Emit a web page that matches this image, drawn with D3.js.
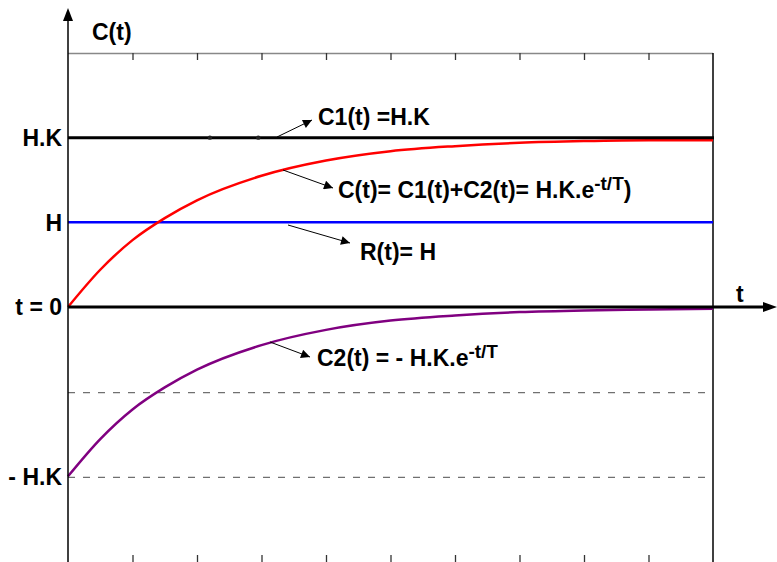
<!DOCTYPE html>
<html>
<head>
<meta charset="utf-8">
<script src="https://cdn.jsdelivr.net/npm/d3@7"></script>
<style>
  body { margin: 0; background: #fff; }
  text { font-family: Arial, "Liberation Sans", sans-serif; font-weight: bold; fill: #000; }
</style>
</head>
<body>
<svg id="container" width="777" height="562"></svg>
<script>
// values (time in tick units, response in units of H)
const tVals  = [0, 0.5, 1, 1.5, 2, 3, 4, 5, 6, 7, 8, 9, 10];
const cVals  = [0, 0.44, 0.79, 1.05, 1.26, 1.55, 1.73, 1.84, 1.90, 1.94, 1.96, 1.97, 1.97];
const c2Vals = [-2, -1.56, -1.21, -0.95, -0.74, -0.45, -0.27, -0.16, -0.10, -0.06, -0.04, -0.03, -0.02];
const c1Level = 2;
const rLevel = 1;
const dashedLevels = [-1, -2];
const levelLabels = ["H.K", "H", "t = 0", "- H.K"];
const levelValues = [2, 1, 0, -2];
const tickValues = [1, 2, 3, 4, 5, 6, 7, 8, 9];

const svg = d3.select('#container');
const fs = 23;

const x = d3.scaleLinear().domain([0, 10]).range([68, 713]);
const y = d3.scaleLinear().domain([-3, 3]).range([561, 53]);

// frame: top border (gray) and right border
svg.append('line')
    .attr('x1', x(0)).attr('x2', x(10))
    .attr('y1', y(3) + 0.5).attr('y2', y(3) + 0.5)
    .attr('stroke', '#888').attr('stroke-width', 1.6);
svg.append('line')
    .attr('x1', x(10)).attr('x2', x(10))
    .attr('y1', y(3)).attr('y2', 562)
    .attr('stroke', '#000').attr('stroke-width', 1.5);

// ticks top (pointing down) and bottom (pointing up)
const topAxis = svg.append('g')
    .attr('transform', `translate(0,${y(3)})`)
    .call(d3.axisBottom(x).tickValues(tickValues).tickSize(7).tickFormat(''));
const botAxis = svg.append('g')
    .attr('transform', `translate(0,562)`)
    .call(d3.axisTop(x).tickValues(tickValues).tickSize(7).tickFormat(''));
[topAxis, botAxis].forEach(a => {
  a.select('.domain').remove();
  a.selectAll('.tick line').attr('stroke', '#333').attr('stroke-width', 1.3);
});

// dashed gray levels
svg.selectAll('line.dash')
  .data(dashedLevels)
  .enter().append('line')
    .attr('class', 'dash')
    .attr('x1', x(0)).attr('x2', x(10))
    .attr('y1', d => y(d) + 1).attr('y2', d => y(d) + 1)
    .attr('stroke', '#707070').attr('stroke-width', 1.4)
    .attr('stroke-dasharray', '7,8');

// R(t) = H  blue
svg.append('line')
    .attr('x1', x(0)).attr('x2', x(10))
    .attr('y1', y(rLevel)).attr('y2', y(rLevel))
    .attr('stroke', '#0000ff').attr('stroke-width', 2.5);

const line = d3.line()
    .x((d, i) => x(tVals[i]))
    .y(d => y(d))
    .curve(d3.curveMonotoneX);

// C(t) red
svg.append('path')
    .datum(cVals)
    .attr('d', line)
    .attr('fill', 'none').attr('stroke', '#ff0000').attr('stroke-width', 2.5);

// C2(t) purple
svg.append('path')
    .datum(c2Vals)
    .attr('d', line)
    .attr('fill', 'none').attr('stroke', '#800080').attr('stroke-width', 2.5);

// C1(t) = H.K black
svg.append('line')
    .attr('x1', x(0)).attr('x2', x(10) + 1)
    .attr('y1', y(c1Level)).attr('y2', y(c1Level))
    .attr('stroke', '#000').attr('stroke-width', 3);
svg.selectAll('circle.mk')
  .data([2.2, 2.95])
  .enter().append('circle')
    .attr('class', 'mk')
    .attr('cx', d => x(d)).attr('cy', y(c1Level))
    .attr('r', 2.2).attr('fill', '#222');

// t axis (black, with arrow)
svg.append('line')
    .attr('x1', x(0)).attr('x2', 766)
    .attr('y1', y(0)).attr('y2', y(0))
    .attr('stroke', '#000').attr('stroke-width', 3);
svg.append('path')
    .attr('d', `M777,${y(0)} L763,${y(0) - 5} L763,${y(0) + 5} Z`)
    .attr('fill', '#000');

// C(t) axis (vertical, with arrow)
svg.append('line')
    .attr('x1', x(0)).attr('x2', x(0))
    .attr('y1', 562).attr('y2', 18)
    .attr('stroke', '#000').attr('stroke-width', 1.5);
svg.append('path')
    .attr('d', `M${x(0)},8 L${x(0) - 5},21 L${x(0) + 5},21 Z`)
    .attr('fill', '#000');

svg.append('text').attr('x', 92).attr('y', 40)
    .attr('font-size', fs).text('C(t)');
svg.append('text').attr('x', 736).attr('y', 302)
    .attr('font-size', fs).text('t');

// level labels on the left
svg.selectAll('text.lvl')
  .data(levelLabels)
  .enter().append('text')
    .attr('class', 'lvl')
    .attr('x', 62)
    .attr('y', (d, i) => y(levelValues[i]))
    .attr('dy', '0.36em')
    .attr('text-anchor', 'end')
    .attr('font-size', fs)
    .text(d => d);

// annotation arrows
svg.append('defs').append('marker')
    .attr('id', 'ah')
    .attr('viewBox', '0 0 10 10')
    .attr('refX', 10).attr('refY', 5)
    .attr('markerWidth', 11).attr('markerHeight', 9)
    .attr('markerUnits', 'userSpaceOnUse')
    .attr('orient', 'auto')
  .append('path').attr('d', 'M0,0 L10,5 L0,10 Z').attr('fill', '#000');

const arrows = [
  [277, 137, 312, 120],
  [283, 170, 333, 188],
  [288, 225, 350, 243],
  [270, 342, 310, 357]
];
svg.selectAll('line.ann')
  .data(arrows)
  .enter().append('line')
    .attr('class', 'ann')
    .attr('x1', d => d[0]).attr('y1', d => d[1])
    .attr('x2', d => d[2]).attr('y2', d => d[3])
    .attr('stroke', '#000').attr('stroke-width', 1)
    .attr('marker-end', 'url(#ah)');

svg.append('text').attr('x', 318).attr('y', 125)
    .attr('font-size', fs).text('C1(t) =H.K');

const t2 = svg.append('text').attr('x', 338).attr('y', 198).attr('font-size', fs);
t2.append('tspan').text('C(t)= C1(t)+C2(t)= H.K.e');
t2.append('tspan').attr('dy', -8).attr('font-size', 19).text('-t/T');
t2.append('tspan').attr('dy', 8).text(')');

svg.append('text').attr('x', 360).attr('y', 260)
    .attr('font-size', fs).text('R(t)= H');

const t4 = svg.append('text').attr('x', 317).attr('y', 366).attr('font-size', fs);
t4.append('tspan').text('C2(t) = - H.K.e');
t4.append('tspan').attr('dy', -8).attr('font-size', 19).text('-t/T');
</script>
</body>
</html>
